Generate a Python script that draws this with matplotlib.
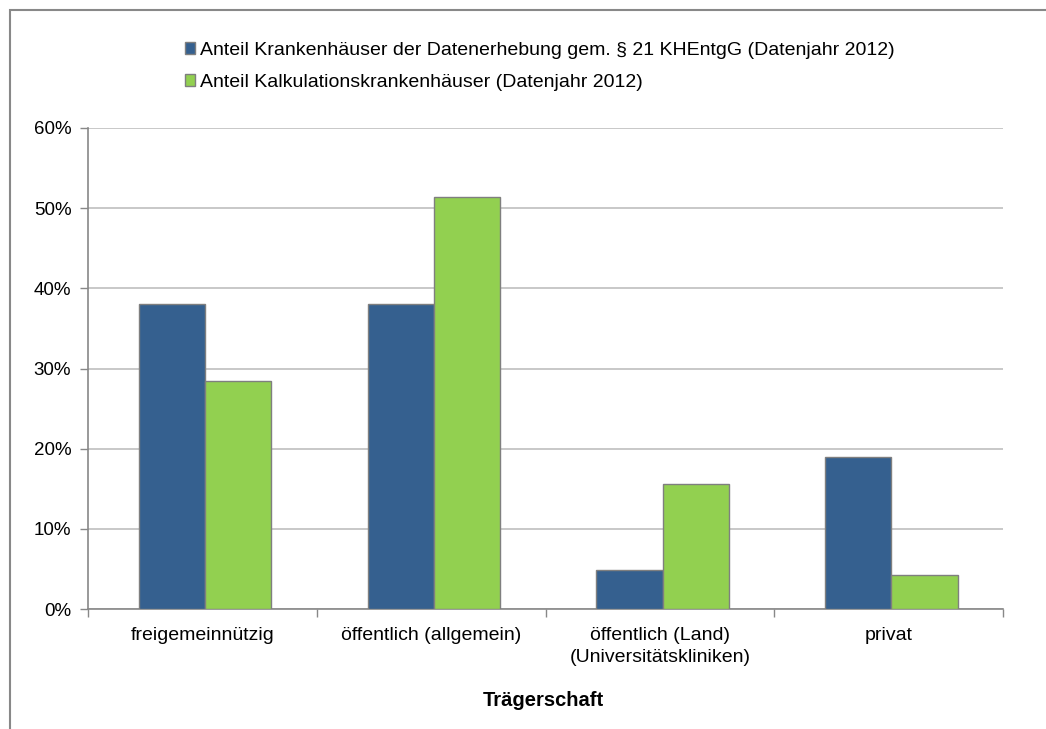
import matplotlib.pyplot as plt
import numpy as np
from matplotlib.patches import Rectangle

plt.rcParams['font.family'] = ['Liberation Sans', 'DejaVu Sans']

# Daten
kategorien = ["freigemeinnützig", "öffentlich (allgemein)", "öffentlich (Land)\n(Universitätskliniken)", "privat"]
anteil_khentgg = [38.0, 38.0, 4.9, 18.9]
anteil_kalkulation = [28.5, 51.4, 15.6, 4.3]
serien_namen = ["Anteil Krankenhäuser der Datenerhebung gem. § 21 KHEntgG (Datenjahr 2012)",
                "Anteil Kalkulationskrankenhäuser (Datenjahr 2012)"]

fig = plt.figure(figsize=(10.46, 7.29), dpi=100)
W, H = 1046, 729

# Rahmen um das Diagramm
fig.patches.append(Rectangle((10 / W, -0.05), 1.2, 1 - 10 / H + 0.05, transform=fig.transFigure,
                             fill=False, edgecolor="#888888", linewidth=1.5))

ax = fig.add_axes([88 / W, 1 - 609 / H, (1003 - 88) / W, (609 - 128) / H])

x = np.arange(len(kategorien))
breite = 0.29
versatz = 0.012
blau = "#35608F"
gruen = "#92D050"
b1 = ax.bar(x - breite / 2 + versatz, anteil_khentgg, breite, color=blau, edgecolor="#7f7f7f", linewidth=1, label=serien_namen[0], zorder=3)
b2 = ax.bar(x + breite / 2 + versatz, anteil_kalkulation, breite, color=gruen, edgecolor="#7f7f7f", linewidth=1, label=serien_namen[1], zorder=3)

ax.set_xlim(-0.5, len(kategorien) - 0.5)
ax.set_ylim(0, 60)
ax.set_yticks(range(0, 61, 10))
ax.set_yticklabels([f"{v}%" for v in range(0, 61, 10)], fontsize=13.5)
ax.yaxis.grid(True, color="#bfbfbf", linewidth=1.2, zorder=0)

ax.set_xticks(x)
ax.set_xticklabels(kategorien, fontsize=14, linespacing=1.35)
ax.tick_params(axis="x", length=0, pad=13)
ax.set_xticks(np.arange(-0.5, len(kategorien)), minor=True)
ax.tick_params(axis="x", which="minor", length=6, color="#888888", width=1)
ax.tick_params(axis="y", length=6, color="#888888", width=1, pad=6)

for s in ["top", "right"]:
    ax.spines[s].set_visible(False)
ax.spines["left"].set_color("#888888")
ax.spines["bottom"].set_color("#888888")
ax.spines["left"].set_linewidth(1.2)
ax.spines["bottom"].set_linewidth(1.2)

fig.text(0.5 * (84 + 1003) / W, 1 - 701 / H, "Trägerschaft", fontsize=14.5, fontweight="bold",
         ha="center", va="center")

leg = fig.legend(handles=[b1, b2], loc="upper left", bbox_to_anchor=(175 / W, 1 - 32 / H),
                 frameon=False, fontsize=14, handlelength=0.55, handleheight=0.55,
                 handletextpad=0.25, labelspacing=0.78, borderpad=0)

plt.savefig("out.png", dpi=100)
